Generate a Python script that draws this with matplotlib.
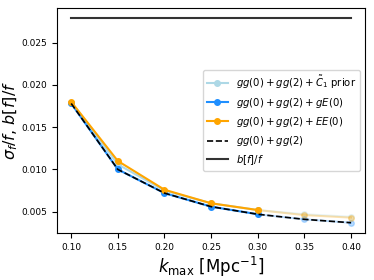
import matplotlib
matplotlib.use('Agg')
import matplotlib.pyplot as plt
import numpy as np

kmax = [0.10, 0.15, 0.20, 0.25, 0.30, 0.35, 0.40]
prior = [0.0179, 0.0106, 0.0075, 0.0060, 0.0052, 0.0047, 0.0044]
gE0 = [0.0178, 0.0100, 0.0072, 0.0056, 0.0047, 0.0041, 0.0037]
EE0 = [0.0180, 0.0110, 0.0076, 0.0060, 0.0052, 0.0046, 0.0043]
gg02 = [0.0178, 0.0100, 0.0072, 0.0056, 0.0047, 0.0041, 0.0037]
bias = 0.0279

fig = plt.figure(figsize=(3.74, 2.8), dpi=100)
ax = fig.add_subplot(111)

series = [(prior, 'lightblue', r'$gg(0)+gg(2)+\tilde{C}_1$ prior'),
          (gE0, '#1f8fff', r'$gg(0)+gg(2)+gE(0)$'),
          (EE0, 'orange', r'$gg(0)+gg(2)+EE(0)$')]
for vals, col, lab in series:
    ax.plot(kmax[:5], vals[:5], 'o-', color=col, ms=4, lw=1.5, label=lab)
    ax.plot(kmax[4:], vals[4:], 'o-', color=col, ms=4, lw=1.5, alpha=0.3)

ax.plot(kmax, gg02, 'k--', lw=1.2, label=r'$gg(0)+gg(2)$')
ax.plot(kmax, [bias] * len(kmax), '-', color='#333333', lw=1.5,
        label=r'$b[f]/f$')

ax.set_xticks(kmax)
ax.set_yticks([0.005, 0.010, 0.015, 0.020, 0.025])
ax.tick_params(labelsize=6.5)
ax.set_xlabel(r'$k_{\rm max}$ [Mpc$^{-1}$]', fontsize=12, labelpad=2)
ax.set_ylabel(r'$\sigma_f/f$, $b[f]/f$', fontsize=11.5)
ax.yaxis.set_label_coords(-0.12, 0.5)
ax.legend(loc='center right', fontsize=7.3)

fig.subplots_adjust(left=0.153, right=0.976, top=0.972, bottom=0.168)
fig.savefig('out.png', dpi=100)
